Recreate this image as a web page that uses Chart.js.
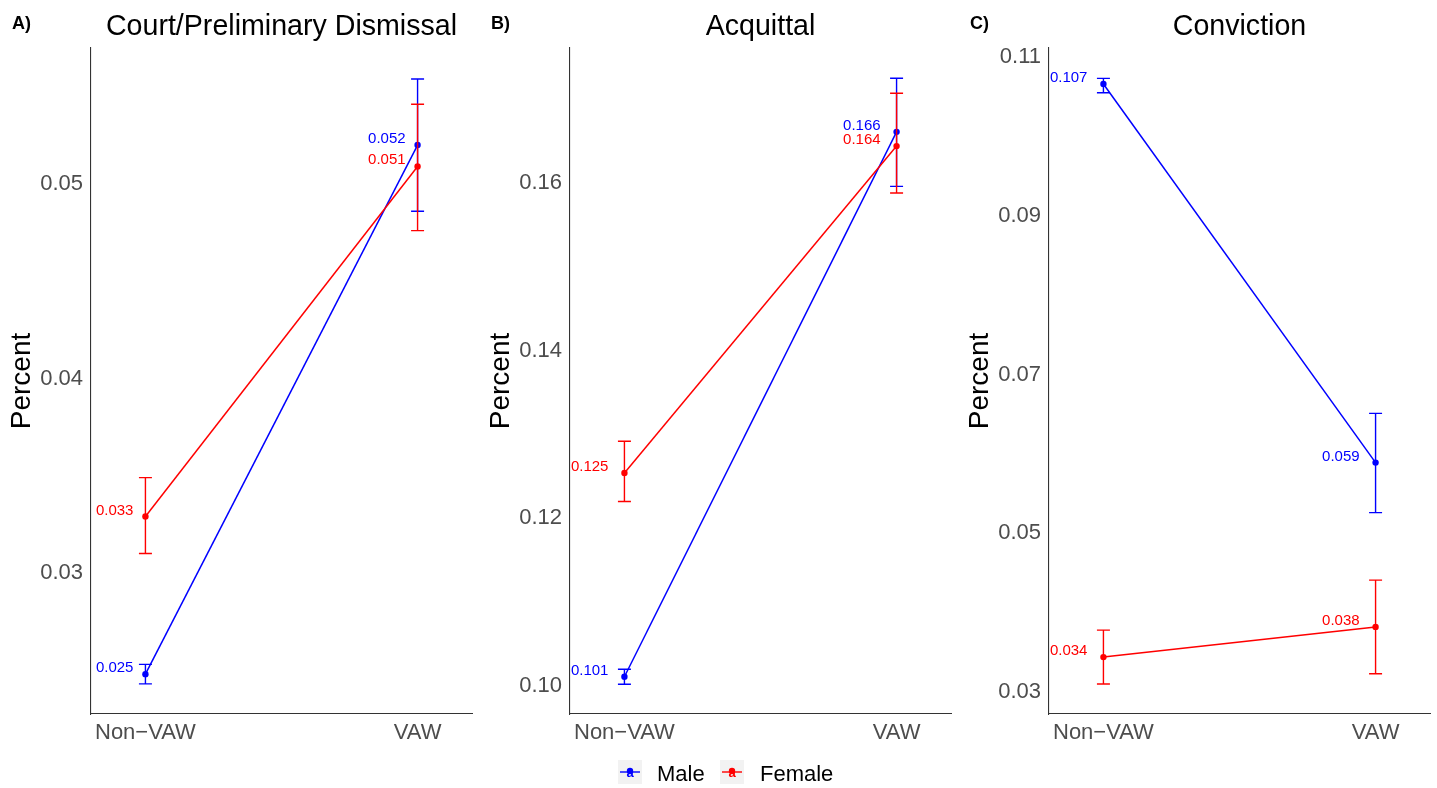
<!DOCTYPE html>
<html>
<head>
<meta charset="utf-8">
<script src="https://cdn.jsdelivr.net/npm/chart.js@4"></script>
<style>
  html, body { margin: 0; padding: 0; background: #ffffff; overflow: hidden; }
  #wrap { position: relative; width: 1437px; height: 788px; }
  canvas { position: absolute; }
</style>
</head>
<body>
<div id="wrap">
  <canvas id="pA" width="480" height="788" style="left:0px;top:0px"></canvas>
  <canvas id="pB" width="480" height="788" style="left:479px;top:0px"></canvas>
  <canvas id="pC" width="480" height="788" style="left:958px;top:0px"></canvas>
  <canvas id="legend" width="1437" height="43" style="left:0px;top:745px"></canvas>
</div>
<script>
// ---------------- DATA ----------------
const categories = ['Non\u2212VAW', 'VAW'];
const seriesNames = ['Male', 'Female'];
const seriesColors = ['#0000FF', '#FF0000'];
const panelTitles = ['Court/Preliminary Dismissal', 'Acquittal', 'Conviction'];
const panelLetters = ['A)', 'B)', 'C)'];

// A) Court/Preliminary Dismissal
const dismissalMale = [0.0248, 0.0520];
const dismissalMaleLow = [0.0243, 0.0486];
const dismissalMaleHigh = [0.0253, 0.0554];
const dismissalFemale = [0.0329, 0.0509];
const dismissalFemaleLow = [0.0310, 0.0476];
const dismissalFemaleHigh = [0.0349, 0.0541];
const dismissalTicks = [0.03, 0.04, 0.05];
const dismissalTickLabels = ['0.03', '0.04', '0.05'];
const dismissalRange = [0.02275, 0.05699];

// B) Acquittal
const acquittalMale = [0.1011, 0.1661];
const acquittalMaleLow = [0.1002, 0.1596];
const acquittalMaleHigh = [0.1020, 0.1725];
const acquittalFemale = [0.1254, 0.1644];
const acquittalFemaleLow = [0.1220, 0.1588];
const acquittalFemaleHigh = [0.1292, 0.1707];
const acquittalTicks = [0.10, 0.12, 0.14, 0.16];
const acquittalTickLabels = ['0.10', '0.12', '0.14', '0.16'];
const acquittalRange = [0.09666, 0.1761];

// C) Conviction
const convictionMale = [0.1066, 0.0589];
const convictionMaleLow = [0.1055, 0.0526];
const convictionMaleHigh = [0.1073, 0.0651];
const convictionFemale = [0.0344, 0.0382];
const convictionFemaleLow = [0.0310, 0.0323];
const convictionFemaleHigh = [0.0378, 0.0441];
const convictionTicks = [0.03, 0.05, 0.07, 0.09, 0.11];
const convictionTickLabels = ['0.03', '0.05', '0.07', '0.09', '0.11'];
const convictionRange = [0.02723, 0.11113];

// ---------------- RENDER ----------------
const FONT = '"Liberation Sans", Arial, Helvetica, sans-serif';

function makePanel(canvasId, idx, male, maleLo, maleHi, female, femaleLo, femaleHi, ticks, tickLabels, range, labelGap) {
  const toPoints = arr => arr.map((v, i) => ({ x: i, y: v }));
  const errPlugin = {
    id: 'errAndText' + idx,
    afterDatasetDraw(chart, args) {
      const ds = chart.data.datasets[args.index];
      const ctx = chart.ctx;
      const xs = chart.scales.x, ys = chart.scales.y;
      ctx.save();
      ctx.strokeStyle = ds.borderColor;
      ctx.lineWidth = 1.4;
      ds.errLow.forEach((lo, i) => {
        const hi = ds.errHigh[i];
        const px = xs.getPixelForValue(i);
        const y1 = ys.getPixelForValue(lo), y2 = ys.getPixelForValue(hi);
        ctx.beginPath();
        ctx.moveTo(px, y1); ctx.lineTo(px, y2);
        ctx.moveTo(px - 6.5, y1); ctx.lineTo(px + 6.5, y1);
        ctx.moveTo(px - 6.5, y2); ctx.lineTo(px + 6.5, y2);
        ctx.stroke();
      });
      ctx.restore();
    },
    afterDatasetsDraw(chart) {
      const ctx = chart.ctx;
      const xs = chart.scales.x, ys = chart.scales.y;
      ctx.save();
      ctx.font = '15px ' + FONT;
      ctx.textAlign = 'right';
      ctx.textBaseline = 'alphabetic';
      chart.data.datasets.forEach(ds => {
        ds.data.forEach((p, i) => {
          ctx.fillStyle = ds.borderColor;
          ctx.fillText(p.y.toFixed(3), xs.getPixelForValue(p.x) - labelGap, ys.getPixelForValue(p.y) - 2);
        });
      });
      ctx.restore();
    },
    afterDraw(chart) {
      const ctx = chart.ctx;
      const a = chart.chartArea;
      ctx.save();
      ctx.fillStyle = '#000000';
      ctx.font = '28.6px ' + FONT;
      ctx.textAlign = 'center';
      ctx.textBaseline = 'alphabetic';
      ctx.fillText(panelTitles[idx], (a.left + a.right) / 2, 35);
      ctx.font = 'bold 18px ' + FONT;
      ctx.textAlign = 'left';
      ctx.fillText(panelLetters[idx], 12, 29);
      ctx.translate(30, (a.top + a.bottom) / 2);
      ctx.rotate(-Math.PI / 2);
      ctx.font = '28px ' + FONT;
      ctx.textAlign = 'center';
      ctx.fillText('Percent', 0, 0);
      ctx.restore();
    }
  };

  return new Chart(document.getElementById(canvasId), {
    type: 'line',
    data: {
      datasets: [
        { label: seriesNames[0], data: toPoints(male), errLow: maleLo, errHigh: maleHi,
          borderColor: seriesColors[0], backgroundColor: seriesColors[0], order: 1 },
        { label: seriesNames[1], data: toPoints(female), errLow: femaleLo, errHigh: femaleHi,
          borderColor: seriesColors[1], backgroundColor: seriesColors[1], order: 0 }
      ]
    },
    options: {
      responsive: false,
      animation: false,
      devicePixelRatio: 1,
      elements: {
        line: { borderWidth: 1.5, tension: 0, fill: false },
        point: { radius: 3.2, borderWidth: 0, hoverRadius: 3.2 }
      },
      layout: { padding: { top: 48, left: 0, right: 8, bottom: 34 } },
      plugins: { legend: { display: false }, tooltip: { enabled: false }, title: { display: false } },
      scales: {
        x: {
          type: 'linear', min: -0.2, max: 1.2,
          afterFit(s) { s.height = 40; },
          afterBuildTicks(s) { s.ticks = categories.map((c, i) => ({ value: i })); },
          ticks: {
            callback: v => categories[v],
            font: { size: 22, family: FONT }, color: '#4d4d4d', padding: 6,
            maxRotation: 0, autoSkip: false
          },
          grid: { display: false, drawTicks: false },
          border: { display: true, color: '#333333', width: 1.1 }
        },
        y: {
          type: 'linear', min: range[0], max: range[1],
          afterFit(s) { s.width = 91; },
          afterBuildTicks(s) { s.ticks = ticks.map(v => ({ value: v })); },
          ticks: {
            callback: (v, i) => tickLabels[i],
            font: { size: 22, family: FONT }, color: '#4d4d4d', padding: 8,
            autoSkip: false
          },
          grid: { display: false, drawTicks: false },
          border: { display: true, color: '#333333', width: 1.1 }
        }
      }
    },
    plugins: [errPlugin]
  });
}

makePanel('pA', 0, dismissalMale, dismissalMaleLow, dismissalMaleHigh,
  dismissalFemale, dismissalFemaleLow, dismissalFemaleHigh, dismissalTicks, dismissalTickLabels, dismissalRange, 12);
makePanel('pB', 1, acquittalMale, acquittalMaleLow, acquittalMaleHigh,
  acquittalFemale, acquittalFemaleLow, acquittalFemaleHigh, acquittalTicks, acquittalTickLabels, acquittalRange, 16);
makePanel('pC', 2, convictionMale, convictionMaleLow, convictionMaleHigh,
  convictionFemale, convictionFemaleLow, convictionFemaleHigh, convictionTicks, convictionTickLabels, convictionRange, 16);

// ---------------- LEGEND ----------------
(function drawLegend() {
  const c = document.getElementById('legend');
  const ctx = c.getContext('2d');
  const keys = [{ x: 618, tx: 657 }, { x: 720, tx: 760 }];
  keys.forEach((k, i) => {
    const col = seriesColors[i];
    ctx.fillStyle = '#f2f2f2';
    ctx.fillRect(k.x, 15, 24, 24);
    const cx = k.x + 12, cy = 27;
    ctx.strokeStyle = col; ctx.lineWidth = 1.4;
    ctx.beginPath(); ctx.moveTo(k.x + 2, cy); ctx.lineTo(k.x + 22, cy); ctx.stroke();
    ctx.fillStyle = col;
    ctx.font = 'bold 13px ' + FONT; ctx.textAlign = 'center'; ctx.textBaseline = 'middle';
    ctx.fillText('a', cx, cy + 1);
    ctx.beginPath(); ctx.arc(cx, cy - 1, 3.2, 0, Math.PI * 2); ctx.fill();
    ctx.fillStyle = '#000000';
    ctx.font = '22px ' + FONT; ctx.textAlign = 'left'; ctx.textBaseline = 'alphabetic';
    ctx.fillText(seriesNames[i], k.tx, 36);
  });
})();
</script>
</body>
</html>
